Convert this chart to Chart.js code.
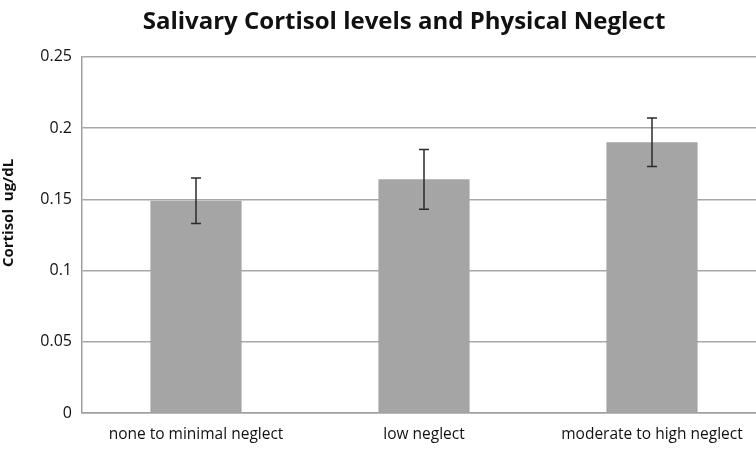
<!DOCTYPE html>
<html>
<head>
<meta charset="utf-8">
<script src="https://cdn.jsdelivr.net/npm/chart.js@4/dist/chart.umd.min.js"></script>
<style>
  html, body { margin: 0; padding: 0; background: #fff; overflow: hidden; width: 756px; height: 454px; }
  canvas { display: block; }
</style>
</head>
<body>
<canvas id="c" width="780" height="454"></canvas>
<script>
const categories = ["none to minimal neglect", "low neglect", "moderate to high neglect"];
const cortisolMeans = [0.149, 0.164, 0.190];
const errorPlus = [0.016, 0.021, 0.017];
const errorMinus = [0.016, 0.021, 0.017];
const yTickLabels = ["0", "0.05", "0.1", "0.15", "0.2", "0.25"];

const errorBarPlugin = {
  id: 'errorBars',
  afterDatasetsDraw(chart) {
    const meta = chart.getDatasetMeta(0);
    const y = chart.scales.y;
    const ctx = chart.ctx;
    ctx.save();
    ctx.strokeStyle = '#2b2b2b';
    ctx.lineWidth = 1.5;
    meta.data.forEach((bar, i) => {
      const v = cortisolMeans[i];
      const top = y.getPixelForValue(v + errorPlus[i]);
      const bot = y.getPixelForValue(v - errorMinus[i]);
      const x = bar.x;
      const cap = 5;
      ctx.beginPath();
      ctx.moveTo(x, top); ctx.lineTo(x, bot);
      ctx.moveTo(x - cap, top); ctx.lineTo(x + cap, top);
      ctx.moveTo(x - cap, bot); ctx.lineTo(x + cap, bot);
      ctx.stroke();
    });
    ctx.restore();
  }
};

// the original figure is cropped on the right; place titles as in the source
const titleShift = {
  id: 'titleShift',
  afterLayout(chart) {
    if (chart.titleBlock) { chart.titleBlock.left = 28; chart.titleBlock.right = 780; }
    const ys = chart.scales.y;
    if (ys && !ys._shiftedTitle) {
      const orig = ys.drawTitle.bind(ys);
      ys.drawTitle = function () {
        const ctx = this.ctx;
        ctx.save();
        ctx.translate(0, -22);
        orig();
        ctx.restore();
      };
      ys._shiftedTitle = true;
    }
  }
};

new Chart(document.getElementById('c'), {
  type: 'bar',
  data: {
    labels: categories,
    datasets: [{
      data: cortisolMeans,
      backgroundColor: '#a5a5a5',
      borderWidth: 0,
      categoryPercentage: 1.0,
      barPercentage: 0.4
    }]
  },
  options: {
    responsive: false,
    animation: false,
    layout: { padding: { left: 0, right: 14, top: 0, bottom: 0 } },
    plugins: {
      legend: { display: false },
      tooltip: { enabled: false },
      title: {
        display: true,
        text: 'Salivary Cortisol levels and Physical Neglect',
        color: '#111',
        font: { family: 'Open Sans', size: 24, weight: 'bold', lineHeight: 1.2 },
        padding: { top: 8, bottom: 20 }
      }
    },
    scales: {
      x: {
        grid: { display: false, drawTicks: false },
        border: { display: true, color: '#a0a0a0', width: 1.5 },
        ticks: { color: '#111', font: { family: 'Open Sans', size: 15.5 }, padding: 12, maxRotation: 0 },
        afterFit(s) { s.height = 41; }
      },
      y: {
        min: 0, max: 0.25,
        afterBuildTicks(s) { s.ticks = yTickLabels.map(t => ({ value: parseFloat(t) })); },
        grid: { color: '#a8a8a8', lineWidth: 1.5, drawTicks: false },
        border: { display: true, color: '#a0a0a0', width: 1.5 },
        ticks: {
          color: '#111',
          font: { family: 'Open Sans', size: 16 },
          padding: 10,
          callback: (v, i) => yTickLabels[i]
        },
        title: {
          display: true,
          text: 'Cortisol  ug/dL',
          color: '#111',
          font: { family: 'Open Sans', size: 15, weight: 'bold' },
          padding: { top: 0, bottom: 2 }
        },
        afterFit(s) { s.width = 82; }
      }
    }
  },
  plugins: [errorBarPlugin, titleShift]
});
</script>
</body>
</html>
